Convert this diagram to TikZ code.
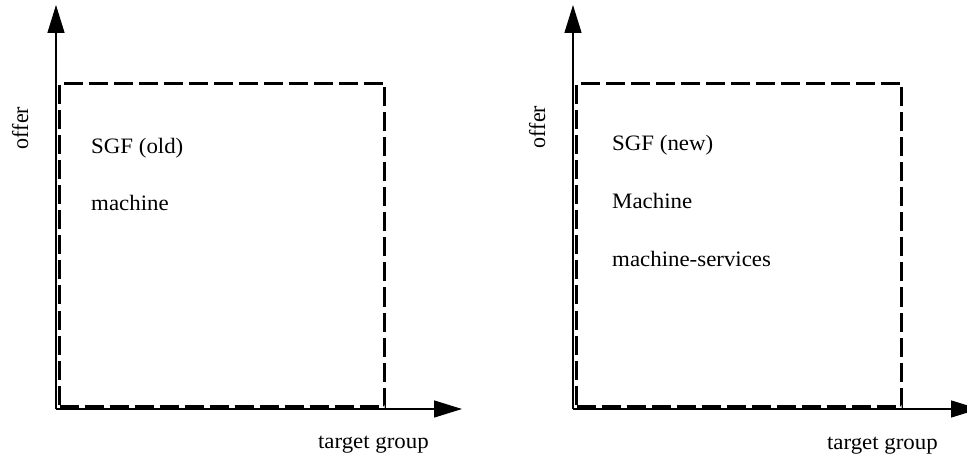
\documentclass[tikz,border=0pt]{standalone}
\usepackage{fontspec}
\setmainfont{Liberation Serif}
\usetikzlibrary{arrows.meta}
\begin{document}
\begin{tikzpicture}[x=1pt,y=-1pt,
  axis/.style={line width=1.4pt,-{Triangle[length=28pt,width=17pt]}},
  region/.style={draw,line width=3pt,dash pattern=on 19pt off 6pt,
    minimum width=325pt,minimum height=323pt,inner sep=0pt,anchor=south west},
  lbl/.style={inner sep=0pt,anchor=base west,font=\fontsize{22pt}{26pt}\selectfont,
    xscale=1.04,transform shape},
  axlbl/.style={inner sep=0pt,font=\fontsize{22pt}{26pt}\selectfont,xscale=1.04,transform shape}]
\useasboundingbox (0,0) rectangle (967,457);

% ---- old business field ----
\coordinate (oL) at (56,409);
\coordinate (yL) at (56,5);
\coordinate (xL) at (462,409);
\node[region] (boxL) at (58,408) {};
\draw[axis] (oL) -- (yL);
\draw[axis] (oL) -- (xL);
\node[axlbl,rotate=90,anchor=base] (offerL) at (28,128) {offer};
\node[axlbl,anchor=base east] (tgL) at (429,448) {target group};
\node[lbl] (sgfL) at (91,154) {SGF (old)};
\node[lbl] (macL) at (91,211) {machine};

% ---- new business field ----
\coordinate (oR) at (573,409);
\coordinate (yR) at (573,5);
\coordinate (xR) at (979,409);
\node[region] (boxR) at (575,408) {};
\draw[axis] (oR) -- (yR);
\draw[axis] (oR) -- (xR);
\node[axlbl,rotate=90,anchor=base] (offerR) at (545,127) {offer};
\node[axlbl,anchor=base east] (tgR) at (938,449) {target group};
\node[lbl] (sgfR) at (612,151) {SGF (new)};
\node[lbl] (macR) at (612,209) {Machine};
\node[lbl] (srvR) at (612,266) {machine-services};
\end{tikzpicture}
\end{document}
